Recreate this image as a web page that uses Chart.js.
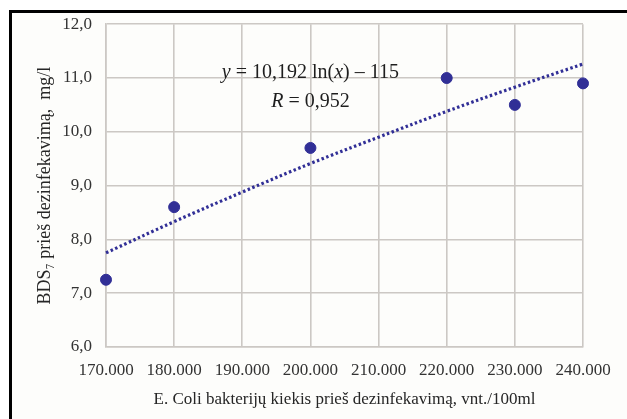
<!DOCTYPE html>
<html>
<head>
<meta charset="utf-8">
<script src="https://cdn.jsdelivr.net/npm/chart.js@4"></script>
<style>
  html, body { margin: 0; padding: 0; background: #fff; }
  #wrap { position: relative; width: 627px; height: 419px; overflow: hidden; }
  #frame { position: absolute; left: 9px; top: 10px; right: -10px; bottom: -10px;
           border-left: 3px solid #000; border-top: 3px solid #000; background: #fdfdfb; }
  #c { position: absolute; left: 0; top: 0; }
</style>
</head>
<body>
<div id="wrap">
  <div id="frame"></div>
  <canvas id="c" width="627" height="419"></canvas>
</div>
<script>
// measured points
const ecoli = [170000, 180000, 200000, 220000, 230000, 240000];
const bds7 = [7.25, 8.6, 9.7, 11.0, 10.5, 10.9];

// logarithmic trendline
const trendX = [170000, 180000, 190000, 200000, 210000, 220000, 230000, 240000];
const trendY = [7.75, 8.33, 8.88, 9.41, 9.90, 10.38, 10.83, 11.26];

const eqParts = [['y', true], [' = 10,192 ln(', false], ['x', true], [') \u2013 115', false]];
const rParts = [['R', true], [' = 0,952', false]];

const SERIF = "'Liberation Serif', 'Times New Roman', serif";
const NAVY = '#312f96';
const GRID = '#ccc8c4';

const fmtY = v => v.toFixed(1).replace('.', ',');
const fmtX = v => String(v).replace(/\B(?=(\d{3})+(?!\d))/g, '.');

// draws a line of text with italic pieces, centred on (cx, cy)
function drawMixed(ctx, parts, cx, cy, size) {
  let total = 0;
  const widths = parts.map(([t, it]) => {
    ctx.font = (it ? 'italic ' : '') + size + 'px ' + SERIF;
    const w = ctx.measureText(t).width;
    total += w;
    return w;
  });
  let x = cx - total / 2;
  parts.forEach(([t, it], i) => {
    ctx.font = (it ? 'italic ' : '') + size + 'px ' + SERIF;
    ctx.fillText(t, x, cy);
    x += widths[i];
  });
}

const equationLabel = {
  id: 'equationLabel',
  afterDatasetsDraw(chart) {
    const ctx = chart.ctx;
    const xs = chart.scales.x, ys = chart.scales.y;
    ctx.save();
    ctx.fillStyle = '#1e1e1e';
    ctx.textBaseline = 'middle';
    ctx.textAlign = 'left';
    const cx = xs.getPixelForValue(200000);
    drawMixed(ctx, eqParts, cx, ys.getPixelForValue(11.1), 20);
    drawMixed(ctx, rParts, cx, ys.getPixelForValue(10.56), 20);
    ctx.restore();
  }
};

new Chart(document.getElementById('c'), {
  type: 'scatter',
  data: {
    datasets: [
      {
        data: ecoli.map((x, i) => ({ x, y: bds7[i] })),
        backgroundColor: NAVY,
        borderColor: NAVY,
        pointRadius: 5.5,
        pointHoverRadius: 5.5,
        clip: false,
        order: 1,
      },
      {
        type: 'line',
        data: trendX.map((x, i) => ({ x, y: trendY[i] })),
        borderColor: NAVY,
        borderWidth: 3.2,
        borderDash: [2.5, 2.5],
        pointRadius: 0,
        tension: 0.4,
        fill: false,
        clip: false,
        order: 2,
      },
    ],
  },
  options: {
    responsive: false,
    animation: false,
    layout: { padding: { top: 23, right: 44, left: 0, bottom: 0 } },
    plugins: { legend: { display: false }, tooltip: { enabled: false } },
    scales: {
      x: {
        type: 'linear',
        min: 170000, max: 240000,
        afterFit: s => { s.height = 72; },
        ticks: { stepSize: 10000, padding: 13, color: '#333', font: { family: SERIF, size: 17 }, callback: fmtX, maxRotation: 0 },
        grid: { color: GRID, lineWidth: 1.6, drawTicks: false },
        border: { color: GRID, width: 1.6 },
        title: { display: true, text: 'E. Coli bakterijų kiekis prieš dezinfekavimą, vnt./100ml',
                 color: '#262626', font: { family: SERIF, size: 17 }, padding: { top: 0, bottom: 9 } },
      },
      y: {
        min: 6, max: 12,
        afterFit: s => { s.width = 106; },
        ticks: { stepSize: 1, padding: 14, color: '#333', font: { family: SERIF, size: 17 }, callback: fmtY },
        grid: { color: GRID, lineWidth: 1.6, drawTicks: false },
        border: { color: GRID, width: 1.6 },
        title: { display: true, text: 'BDS₇ prieš dezinfekavimą,  mg/l',
                 color: '#262626', font: { family: SERIF, size: 18 }, padding: { top: 34, bottom: 0 } },
      },
    },
  },
  plugins: [equationLabel],
});
</script>
</body>
</html>
